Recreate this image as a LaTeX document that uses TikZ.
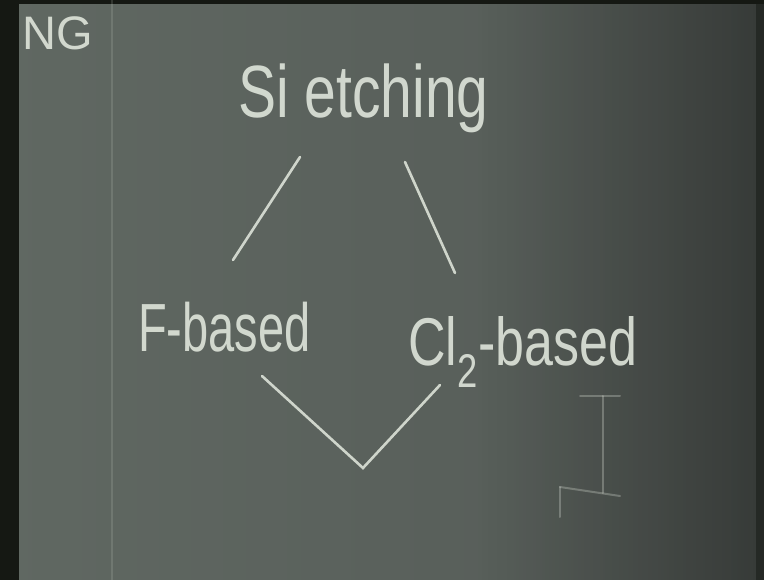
\documentclass[tikz,border=0pt]{standalone}
\usepackage{fontspec}
\setmainfont{Liberation Sans}
\usepackage{graphicx}
\usetikzlibrary{fadings}
\definecolor{chalkc}{HTML}{DCE2D8}
\definecolor{boardL}{HTML}{606862}
\definecolor{boardM}{HTML}{6A716B}
\definecolor{boardR}{HTML}{545A56}
\definecolor{edgec}{HTML}{151813}
\begin{document}
\begin{tikzpicture}[x=1pt,y=-1pt,
  chalk/.style={draw=chalkc, line width=2.6pt, line cap=round, opacity=0.9},
  faint/.style={draw=chalkc, line width=2pt, line cap=round, opacity=0.3},
  lbl/.style={text=chalkc, inner sep=0pt, anchor=base west, opacity=0.92}]
\useasboundingbox (0,0) rectangle (764,580);
% board
\shade[left color=boardL, middle color=boardM, right color=boardR, shading angle=90] (0,0) rectangle (764,580);
\fill[black, opacity=0.35, path fading=west] (480,0) rectangle (764,580);
% frame edges
\fill[edgec] (0,0) rectangle (19,580);
\fill[edgec] (0,0) rectangle (764,4);
\fill[edgec, opacity=0.5] (756,0) rectangle (764,580);
\draw[chalkc, opacity=0.15, line width=2pt] (112,0) -- (112,580);
% texts
\node[lbl, font=\fontsize{47}{50}\selectfont] (ng) at (22,50) {NG};
\node[lbl, font=\fontsize{57}{60}\selectfont] (si) at (238,118) {\scalebox{1}[1.3]{Si etching}};
\node[lbl, font=\fontsize{47}{50}\selectfont] (fb) at (138,352) {\scalebox{1}[1.45]{F-based}};
\node[lbl, font=\fontsize{52}{55}\selectfont] (cl) at (408,366) {\scalebox{1}[1.3]{Cl\textsubscript{2}-based}};
% connector end points
\coordinate (s1) at (300,157);
\coordinate (f1) at (233,260);
\coordinate (s2) at (405,162);
\coordinate (c1) at (455,273);
\coordinate (f2) at (262,376);
\coordinate (v) at (363,468);
\coordinate (c2) at (440,385);
\draw[chalk] (s1) -- (f1);
\draw[chalk] (s2) -- (c1);
\draw[chalk] (f2) -- (v) -- (c2);
% faint marks
\coordinate (t1) at (580,396);
\coordinate (t2) at (620,396);
\coordinate (t3) at (603,396);
\coordinate (t4) at (603,493);
\coordinate (t5) at (560,487);
\coordinate (t6) at (620,496);
\coordinate (t7) at (560,517);
\draw[faint] (t1) -- (t2);
\draw[faint] (t3) -- (t4);
\draw[faint] (t5) -- (t6);
\draw[faint] (t5) -- (t7);
\end{tikzpicture}
\end{document}
